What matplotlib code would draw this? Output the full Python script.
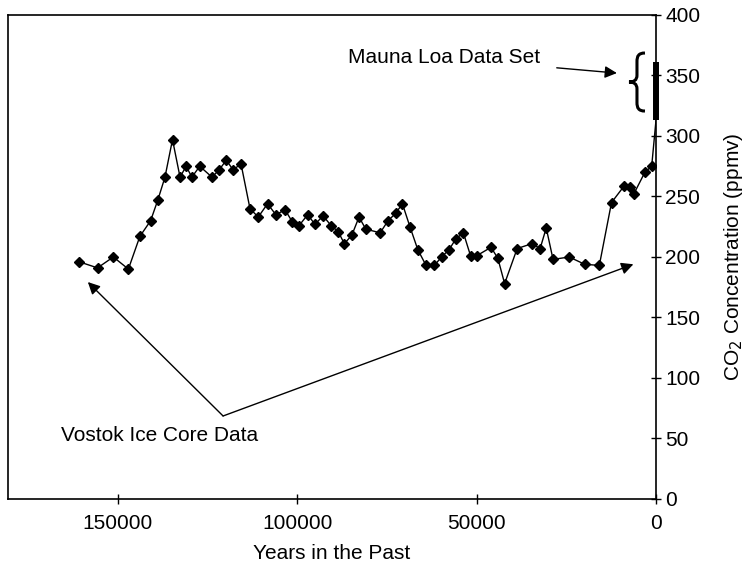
import matplotlib.pyplot as plt
from matplotlib.path import Path
from matplotlib.patches import PathPatch
import matplotlib.transforms as mtransforms

plt.rcParams['font.family'] = ['Liberation Sans', 'DejaVu Sans']

# Vostok ice core record (years before present, CO2 ppmv)
vostok_years = [160800, 155700, 151300, 147100, 143900, 140900, 138900, 136900,
                134800, 132700, 131000, 129400, 127200, 123800, 121800, 119800,
                117900, 115700, 113200, 110900, 108300, 106000, 103400, 101400,
                99500, 97100, 95100, 92800, 90600, 88600, 86900, 84800, 82800,
                80900, 76900, 74700, 72600, 70700, 68600, 66400, 64100, 61800,
                59800, 57700, 55800, 53700, 51700, 50000, 46000, 44100, 42200,
                38700, 34600, 32300, 30600, 28700, 24200, 19900, 15800, 12400,
                8800, 7300, 6200, 3100, 1200]
vostok_co2 = [196, 191, 200, 190, 217, 230, 247, 266,
              297, 266, 275, 266, 275, 266, 272, 280,
              272, 277, 240, 233, 244, 235, 239, 229,
              226, 235, 227, 234, 226, 221, 211, 218, 233,
              223, 220, 230, 236, 244, 225, 206, 193, 193,
              200, 206, 215, 220, 201, 201, 208, 199, 178,
              207, 211, 207, 224, 198, 200, 194, 193, 245,
              259, 258, 252, 270, 275]

# Mauna Loa range, plotted at year 0
mauna_years = [0, 0]
mauna_co2 = [313, 361]

fig = plt.figure(figsize=(7.44, 5.68), dpi=100)
ax = fig.add_axes([0.0101, 0.1215, 0.8716, 0.8521])

ax.plot(vostok_years, vostok_co2, color='black', lw=1.0, marker='D',
        markersize=5.5, markerfacecolor='black', markeredgecolor='black')
ax.plot([vostok_years[-1], mauna_years[0]], [vostok_co2[-1], mauna_co2[0]],
        color='black', lw=1.0)
ax.plot(mauna_years, mauna_co2, color='black', lw=4.3, solid_capstyle='butt',
        clip_on=False, zorder=5)

ax.set_xlim(180800, 0)
ax.set_ylim(0, 400)
ax.set_xticks([150000, 100000, 50000, 0])
ax.set_yticks(range(0, 401, 50))

ax.yaxis.tick_right()
ax.yaxis.set_label_position('right')
ax.tick_params(axis='both', direction='inout', length=7, width=1.0,
               labelsize=15, colors='black')
ax.tick_params(axis='x', pad=7)
ax.tick_params(axis='y', pad=3)
for side in ax.spines.values():
    side.set_linewidth(1.2)

ax.set_xlabel('Years in the Past', fontsize=15, labelpad=8)
ax.set_ylabel('CO$_2$ Concentration (ppmv)', fontsize=15)
ax.yaxis.set_label_coords(1.1018, 0.5)

# curly brace beside the Mauna Loa bar (drawn in inches around a data point)
brace_w, brace_h = 0.16, 0.58
brace_pts = [(0.5, 0.5), (0.1, 0.5), (0.0, 0.45), (0.0, 0.35),
             (0.0, 0.12),
             (0.0, 0.03), (-0.2, 0.0), (-0.5, 0.0),
             (-0.2, 0.0), (0.0, -0.03), (0.0, -0.12),
             (0.0, -0.35),
             (0.0, -0.45), (0.1, -0.5), (0.5, -0.5)]
brace_codes = [Path.MOVETO, Path.CURVE4, Path.CURVE4, Path.CURVE4,
               Path.LINETO,
               Path.CURVE4, Path.CURVE4, Path.CURVE4,
               Path.CURVE4, Path.CURVE4, Path.CURVE4,
               Path.LINETO,
               Path.CURVE4, Path.CURVE4, Path.CURVE4]
brace = Path([(u * brace_w, v * brace_h) for u, v in brace_pts], brace_codes)
brace_tr = fig.dpi_scale_trans + mtransforms.ScaledTranslation(5300, 344.6, ax.transData)
ax.add_patch(PathPatch(brace, transform=brace_tr, facecolor='none',
                       edgecolor='black', lw=2.2, clip_on=False))

ax.annotate('Mauna Loa Data Set', xy=(10900, 352), xytext=(32300, 364.5),
            fontsize=15, ha='right', va='center',
            arrowprops=dict(arrowstyle='-|>', color='black', lw=1.0,
                            mutation_scale=18, shrinkA=10, shrinkB=0))

apex = (120700, 68.6)
ax.text(138300, 52.5, 'Vostok Ice Core Data', fontsize=15, ha='center', va='center')
ax.annotate('', xy=(158400, 179.3), xytext=apex,
            arrowprops=dict(arrowstyle='-|>', color='black', lw=1.0,
                            mutation_scale=18, shrinkA=0, shrinkB=0))
ax.annotate('', xy=(6300, 194), xytext=apex,
            arrowprops=dict(arrowstyle='-|>', color='black', lw=1.0,
                            mutation_scale=18, shrinkA=0, shrinkB=0))

fig.savefig('out.png', dpi=100)
